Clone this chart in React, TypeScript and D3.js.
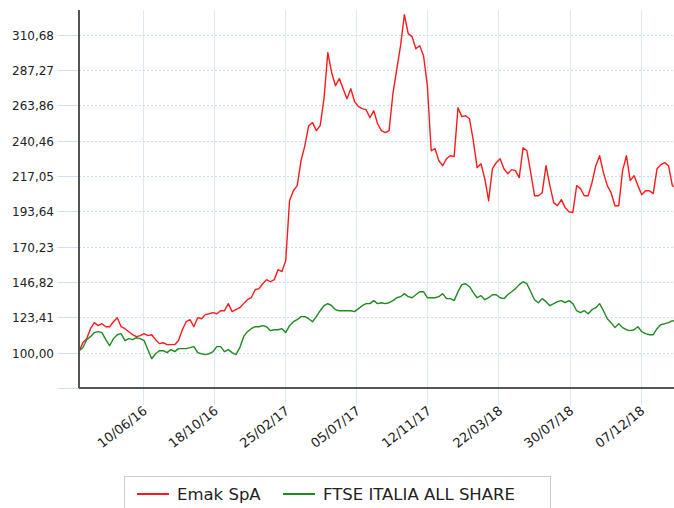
import React from 'react';
import * as d3 from 'd3';

// weekly closes, rebased to 100 on the first day
const startDate = new Date(2016, 1, 14);
const stepDays = 7;

const emakValues = [
  100.7, 106.6, 109.3, 115.9, 119.9, 117.9, 119.2, 117.2, 117.2, 120.5,
  123.2, 117.2, 115.9, 113.9, 111.9, 110.6, 111.3, 112.6, 111.3, 111.9,
  108.6, 106.0, 106.6, 105.3, 105.3, 105.3, 108.0, 115.2, 120.5, 121.9,
  117.2, 123.2, 122.5, 125.2, 125.8, 126.5, 125.8, 127.8, 127.8, 132.5,
  127.2, 128.5, 129.8, 132.5, 135.1, 136.4, 141.7, 142.4, 145.7, 148.4,
  147.0, 148.4, 155.0, 153.7, 161.0, 200.7, 207.3, 210.7, 227.2, 237.2,
  250.4, 252.4, 247.1, 250.4, 268.3, 298.8, 285.5, 276.9, 281.6, 274.9,
  268.3, 274.9, 266.3, 263.0, 261.7, 261.0, 255.7, 260.3, 251.7, 247.1,
  245.8, 247.1, 271.6, 287.5, 303.4, 324.0, 311.4, 309.4, 301.4, 303.4,
  296.8, 276.9, 233.8, 235.2, 227.2, 223.9, 228.5, 230.5, 229.9, 262.3,
  256.4, 257.0, 255.0, 240.5, 222.6, 225.2, 215.3, 200.7, 221.9, 225.9,
  228.5, 221.9, 218.6, 221.3, 220.6, 216.0, 235.8, 233.8, 219.3, 204.0,
  204.0, 206.0, 223.9, 210.7, 199.4, 197.4, 201.4, 196.1, 193.4, 192.8,
  210.7, 208.7, 204.0, 204.0, 212.6, 223.9, 230.5, 219.3, 210.7, 206.0,
  197.4, 197.4, 220.6, 230.5, 214.0, 217.3, 210.7, 204.7, 207.3, 207.3,
  205.4, 221.9, 224.6, 225.9, 223.9, 210.7, 209.3,
];

const ftseValues = [
  101.3, 103.3, 108.6, 110.6, 113.3, 113.9, 113.3, 108.6, 104.6, 109.3,
  111.9, 112.6, 108.0, 109.3, 108.6, 109.9, 109.3, 108.0, 102.0, 96.0,
  99.3, 101.3, 101.3, 100.0, 102.0, 100.7, 102.7, 102.7, 102.7, 103.3,
  104.0, 100.0, 99.3, 98.7, 99.3, 100.7, 104.0, 104.0, 100.7, 102.0,
  100.0, 98.7, 103.3, 110.6, 113.9, 115.9, 117.2, 117.2, 117.9, 117.2,
  114.6, 115.2, 115.2, 115.9, 113.3, 117.9, 120.5, 121.9, 123.9, 123.9,
  122.5, 120.5, 123.9, 127.8, 131.1, 132.5, 131.1, 128.5, 127.8, 127.8,
  127.8, 127.8, 127.2, 129.2, 131.1, 132.5, 132.5, 134.5, 132.5, 133.1,
  132.5, 133.1, 134.5, 136.4, 137.1, 139.1, 137.1, 136.4, 138.4, 140.4,
  140.4, 136.4, 136.4, 136.4, 137.1, 139.1, 135.8, 135.8, 134.5, 140.4,
  145.1, 145.7, 143.7, 139.8, 136.4, 137.8, 135.1, 136.4, 138.4, 138.4,
  136.4, 135.8, 138.4, 140.4, 142.4, 145.1, 147.0, 145.7, 140.4, 135.1,
  133.1, 135.8, 133.8, 131.1, 132.5, 133.8, 134.5, 133.1, 134.5, 132.5,
  127.8, 126.5, 127.8, 125.8, 128.5, 129.8, 132.5, 127.8, 122.5, 119.9,
  116.6, 119.2, 116.6, 115.2, 114.6, 115.2, 117.2, 113.9, 112.6, 111.9,
  111.9, 115.9, 118.6, 119.2, 119.9, 121.2, 120.5,
];

const xTickLabels = ['10/06/16', '18/10/16', '25/02/17', '05/07/17', '12/11/17', '22/03/18', '30/07/18', '07/12/18'];
const yTicks = [76.59, 100, 123.41, 146.82, 170.23, 193.64, 217.05, 240.46, 263.86, 287.27, 310.68];

const seriesNames = ['Emak SpA', 'FTSE ITALIA ALL SHARE'];
const seriesColors = ['#ff1a1a', '#1f8a1f'];

const W = 674, H = 508;
const left = 79, right = 674, top = 10, bottom = 388;
const font = '"DejaVu Sans", Verdana, sans-serif';

export default function App() {
  const parse = d3.timeParse('%d/%m/%y');
  const x = d3.scaleTime()
    .domain([startDate, d3.timeDay.offset(startDate, 1088)])
    .range([left, right]);
  const y = d3.scaleLinear()
    .domain([76.59, 327.06])
    .range([bottom, top]);

  const toPoints = (vals: number[]) => vals.map((v, i) => ({ date: d3.timeDay.offset(startDate, i * stepDays), v }));
  const line = d3.line<{ date: Date; v: number }>()
    .x(d => x(d.date))
    .y(d => y(d.v));

  const series = [emakValues, ftseValues].map(toPoints);
  const fmt = (v: number) => v.toFixed(2).replace('.', ',');

  return (
    <svg width={W} height={H} style={{ position: 'absolute', left: 0, top: 0, background: '#fff' }} fontFamily={font}>
      <defs>
        <clipPath id="plot">
          <rect x={left} y={0} width={right - left} height={bottom} />
        </clipPath>
      </defs>

      {/* vertical grid */}
      {xTickLabels.map(t => {
        const xx = Math.round(x(parse(t) as Date)) + 0.5;
        return <line key={t} x1={xx} x2={xx} y1={top} y2={405} stroke="#dce9f8" strokeWidth={1} />;
      })}

      {/* horizontal grid + tick stubs */}
      {yTicks.map(v => {
        const yy = Math.round(y(v)) + 0.5;
        return (
          <g key={v}>
            <line x1={left} x2={right} y1={yy} y2={yy} stroke="#c9dcf2" strokeDasharray="2,2" />
            <line x1={58} x2={left} y1={yy} y2={yy} stroke="#cfe0f4" />
            {v >= 100 && (
              <text x={54} y={yy} dy="0.35em" textAnchor="end" fontSize={12} fill="#222">{fmt(v)}</text>
            )}
          </g>
        );
      })}

      <g clipPath="url(#plot)">
        {series.map((s, i) => (
          <path key={i} d={line(s) || ''} fill="none" stroke={seriesColors[i]} strokeWidth={1.4} strokeLinejoin="round" />
        ))}
      </g>

      {/* axes */}
      <line x1={left} x2={left} y1={top} y2={bottom} stroke="#555" strokeWidth={2} />
      <line x1={left} x2={right} y1={bottom} y2={bottom} stroke="#555" strokeWidth={2} />

      {xTickLabels.map(t => {
        const xx = x(parse(t) as Date);
        return (
          <text key={t} transform={`translate(${xx + 5},${412.5}) rotate(-38)`} textAnchor="end" fontSize={13} fill="#222">{t}</text>
        );
      })}

      {/* legend */}
      <rect x={124.5} y={476.5} width={426} height={40} fill="#fff" stroke="#ccc" />
      {seriesNames.map((name, i) => {
        const lx = i === 0 ? 137 : 283;
        return (
          <g key={name}>
            <line x1={lx} x2={lx + 32} y1={494} y2={494} stroke={seriesColors[i]} strokeWidth={2} />
            <text x={lx + 40} y={500} fontSize={16.5} fill="#222">{name}</text>
          </g>
        );
      })}
    </svg>
  );
}
